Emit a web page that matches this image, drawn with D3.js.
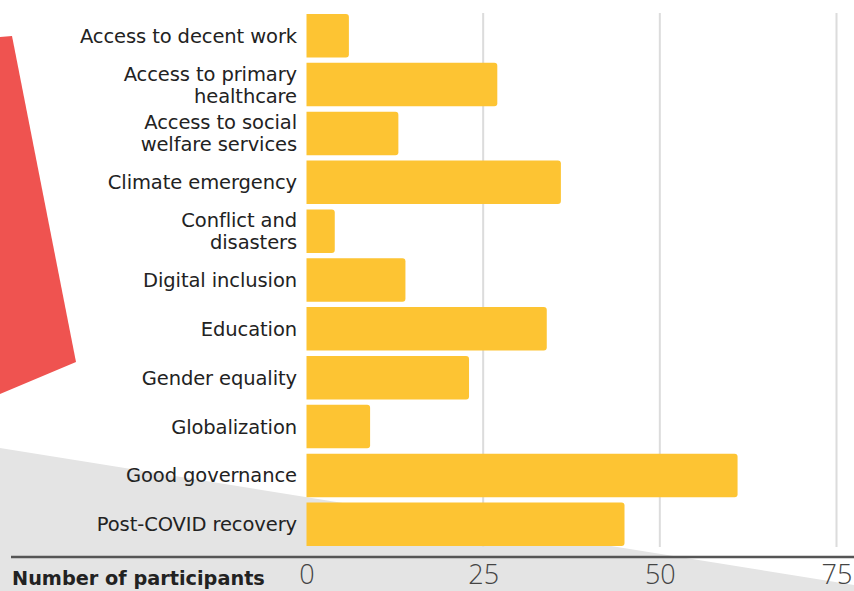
<!DOCTYPE html>
<html>
<head>
<meta charset="utf-8">
<script src="https://cdn.jsdelivr.net/npm/d3@7"></script>
<style>
  html, body { margin: 0; padding: 0; background: #fff; }
  svg { display: block; }
</style>
</head>
<body>
<svg id="chart" width="854" height="591"></svg>
<script>
const categories = [
  ["Access to decent work"],
  ["Access to primary", "healthcare"],
  ["Access to social", "welfare services"],
  ["Climate emergency"],
  ["Conflict and", "disasters"],
  ["Digital inclusion"],
  ["Education"],
  ["Gender equality"],
  ["Globalization"],
  ["Good governance"],
  ["Post-COVID recovery"]
];
const values = [6, 27, 13, 36, 4, 14, 34, 23, 9, 61, 45];
const tickValues = [0, 25, 50, 75];
const axisTitle = "Number of participants";

const W = 854, H = 591;
const svg = d3.select("#chart");
const font = "'DejaVu Sans', sans-serif";

// background decorations
svg.append("polygon")
  .attr("points", `0,${H} 0,448 ${W},585 ${W},${H}`)
  .attr("fill", "#e4e4e4");
svg.append("polygon")
  .attr("points", "0,37 12,36 76,362 0,394")
  .attr("fill", "#ef5350");

const x = d3.scaleLinear().domain([0, 75]).range([306.5, 836.5]);
const y = d3.scaleBand()
  .domain(d3.range(categories.length))
  .range([14, 546])
  .paddingInner(0.11)
  .paddingOuter(0);

// grid lines
svg.append("g").selectAll("line")
  .data(tickValues.slice(1))
  .join("line")
  .attr("x1", d => x(d)).attr("x2", d => x(d))
  .attr("y1", 13).attr("y2", 547)
  .attr("stroke", "#dcdcdc")
  .attr("stroke-width", 2);

// bars
svg.append("g").selectAll("path")
  .data(values)
  .join("path")
  .attr("d", (d, i) => {
    const x0 = x(0), x1 = x(d), y0 = y(i), h = y.bandwidth(), r = 3;
    return `M${x0},${y0} H${x1 - r} Q${x1},${y0} ${x1},${y0 + r} V${y0 + h - r} Q${x1},${y0 + h} ${x1 - r},${y0 + h} H${x0} Z`;
  })
  .attr("fill", "#fdc433");

// category labels
const labels = svg.append("g").selectAll("text")
  .data(categories)
  .join("text")
  .attr("x", 297)
  .attr("y", (d, i) => y(i) + y.bandwidth() / 2)
  .attr("text-anchor", "end")
  .attr("font-family", font)
  .attr("font-size", 19.5)
  .attr("letter-spacing", -0.1)
  .attr("fill", "#222");
labels.each(function(d) {
  const t = d3.select(this);
  const n = d.length, lh = 22;
  d.forEach((line, k) => {
    t.append("tspan")
      .attr("x", 297)
      .attr("dy", k === 0 ? ((-(n - 1) * lh) / 2 + 7) : lh)
      .text(line);
  });
});

// x axis
const axis = d3.axisBottom(x).tickValues(tickValues).tickSize(0).tickPadding(0);
const gx = svg.append("g").attr("transform", "translate(0,557)").call(axis);
gx.select(".domain").remove();
gx.selectAll("text")
  .attr("dy", null)
  .attr("y", 27)
  .attr("font-family", "'Open Sans', sans-serif")
  .attr("font-size", 27)
  .attr("font-weight", 300)
  .attr("fill", "#444");

svg.append("line")
  .attr("x1", 11).attr("x2", W)
  .attr("y1", 557).attr("y2", 557)
  .attr("stroke", "#555")
  .attr("stroke-width", 2.5);

svg.append("text")
  .attr("x", 12).attr("y", 585)
  .attr("font-family", font)
  .attr("font-size", 19.3)
  .attr("font-weight", 700)
  .attr("fill", "#222")
  .text(axisTitle);
</script>
</body>
</html>
